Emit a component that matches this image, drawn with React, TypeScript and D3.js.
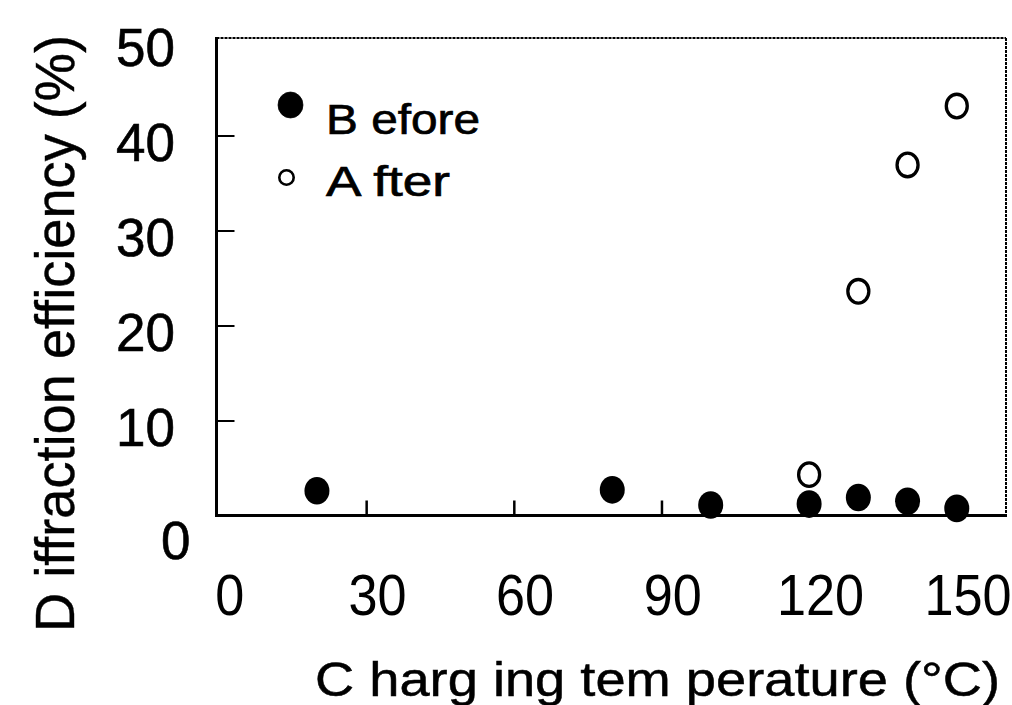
import { useEffect, useRef } from 'react';
import * as d3 from 'd3';

// data
const beforeTemps = [20, 80, 100, 120, 130, 140, 150];
const beforeValues = [2.6, 2.7, 1.1, 1.2, 1.9, 1.5, 0.75];
const afterTemps = [120, 130, 140, 150];
const afterValues = [4.3, 23.6, 36.9, 43.1];

const xTicks = [0, 30, 60, 90, 120, 150];
const yTicks = [0, 10, 20, 30, 40, 50];
const legendLabels = ['B efore', 'A fter'];
const xTitle = 'C harg ing tem perature (°C)';
const yTitle = 'D iffraction efficiency (%)';

const App = () => {
  const svgRef = useRef<SVGSVGElement>(null);

  useEffect(() => {
    const svg = d3.select(svgRef.current);
    svg.selectAll('*').remove();

    const font = '"Liberation Sans", Arial, sans-serif';
    const frame = { left: 216.5, right: 1006, top: 38, bottom: 515.5 };

    // ==========================================
    // SCALES
    // ==========================================
    const x = d3.scaleLinear().domain([0, 160]).range([218.5, 1006]);
    const y = d3.scaleLinear().domain([0, 50]).range([515.5, 40.5]);

    // ==========================================
    // FRAME
    // ==========================================
    const fr = svg.append('g').attr('stroke', '#000').attr('fill', 'none');
    fr.append('line')
      .attr('x1', frame.left).attr('x2', frame.right)
      .attr('y1', frame.top).attr('y2', frame.top)
      .attr('stroke-width', 2).attr('stroke-dasharray', '3 1');
    fr.append('line')
      .attr('x1', frame.right).attr('x2', frame.right)
      .attr('y1', frame.top).attr('y2', frame.bottom)
      .attr('stroke-width', 2).attr('stroke-dasharray', '3 1');
    fr.append('line')
      .attr('x1', frame.left).attr('x2', frame.left)
      .attr('y1', frame.top - 1).attr('y2', frame.bottom + 1.5)
      .attr('stroke-width', 3);
    fr.append('line')
      .attr('x1', frame.left - 1.5).attr('x2', frame.right + 1)
      .attr('y1', frame.bottom).attr('y2', frame.bottom)
      .attr('stroke-width', 3);

    // ==========================================
    // AXES
    // ==========================================
    const yAxis = d3.axisLeft(y).tickValues(yTicks).tickSize(-18).tickPadding(41.5);
    const yg = svg.append('g')
      .attr('transform', `translate(${frame.left},0)`)
      .call(yAxis);
    yg.select('.domain').remove();
    yg.selectAll('.tick line')
      .attr('stroke', '#000')
      .attr('stroke-width', 2)
      .filter((d: any) => d === 0 || d === 50)
      .remove();
    yg.selectAll('.tick text')
      .attr('font-family', font)
      .attr('font-size', 53)
      .attr('fill', '#000')
      .attr('stroke', '#000')
      .attr('stroke-width', 0.6)
      .attr('x', (d: any) => (d === 0 ? -26 : -41.5))
      .attr('dy', (d: any) => (d === 0 ? '0.82em' : '0.47em'));

    const xAxis = d3.axisBottom(x).tickValues(xTicks).tickSize(-15).tickPadding(0);
    const xg = svg.append('g')
      .attr('transform', `translate(0,${frame.bottom})`)
      .call(xAxis);
    xg.select('.domain').remove();
    xg.selectAll('.tick line')
      .attr('stroke', '#000')
      .attr('stroke-width', 2.5)
      .filter((d: any) => d === 0)
      .remove();
    // narrow, tall digits as in the scanned original
    xg.selectAll('.tick text')
      .attr('font-family', font)
      .attr('font-size', 58)
      .attr('fill', '#000')
      .attr('transform', 'scale(0.9,1)')
      .attr('x', 12)
      .attr('y', 99.5)
      .attr('dy', 0);

    // ==========================================
    // POINTS
    // ==========================================
    svg.append('g')
      .selectAll('ellipse')
      .data(afterTemps.map((t, i) => ({ t, v: afterValues[i] })))
      .enter()
      .append('ellipse')
      .attr('cx', (d) => x(d.t))
      .attr('cy', (d) => y(d.v))
      .attr('rx', 10.5)
      .attr('ry', 11.8)
      .attr('fill', '#fff')
      .attr('stroke', '#000')
      .attr('stroke-width', 3.3);

    svg.append('g')
      .selectAll('ellipse')
      .data(beforeTemps.map((t, i) => ({ t, v: beforeValues[i] })))
      .enter()
      .append('ellipse')
      .attr('cx', (d) => x(d.t))
      .attr('cy', (d) => y(d.v))
      .attr('rx', 12.5)
      .attr('ry', 13.8)
      .attr('fill', '#000');

    // ==========================================
    // LEGEND
    // ==========================================
    const lg = svg.append('g')
      .attr('font-family', font)
      .attr('font-size', 42)
      .attr('fill', '#000')
      .attr('stroke', '#000')
      .attr('stroke-width', 0.7);
    lg.append('ellipse').attr('cx', 290.5).attr('cy', 105).attr('rx', 12.5).attr('ry', 13).attr('fill', '#000');
    lg.append('text').attr('x', 326).attr('y', 134)
      .attr('textLength', 154).attr('lengthAdjust', 'spacingAndGlyphs')
      .text(legendLabels[0]);
    lg.append('circle').attr('cx', 286.5).attr('cy', 177.5).attr('r', 7.2)
      .attr('fill', '#fff').attr('stroke', '#000').attr('stroke-width', 2.6);
    lg.append('text').attr('x', 326).attr('y', 196)
      .attr('textLength', 124).attr('lengthAdjust', 'spacingAndGlyphs')
      .text(legendLabels[1]);

    // ==========================================
    // TITLES
    // ==========================================
    svg.append('text')
      .attr('x', 315).attr('y', 696)
      .attr('font-family', font).attr('font-size', 48).attr('fill', '#000')
      .attr('stroke', '#000').attr('stroke-width', 0.5)
      .attr('textLength', 685).attr('lengthAdjust', 'spacingAndGlyphs')
      .style('white-space', 'pre')
      .text(xTitle);

    svg.append('text')
      .attr('transform', 'translate(74,333.5) rotate(-90)')
      .attr('text-anchor', 'middle')
      .attr('font-family', font).attr('font-size', 56).attr('fill', '#000')
      .attr('stroke', '#000').attr('stroke-width', 0.4)
      .attr('textLength', 597).attr('lengthAdjust', 'spacingAndGlyphs')
      .style('white-space', 'pre')
      .text(yTitle);
  }, []);

  return (
    <svg
      ref={svgRef}
      width={1012}
      height={705}
      style={{ position: 'absolute', left: 0, top: 0, background: '#fff' }}
    />
  );
};

export default App;
